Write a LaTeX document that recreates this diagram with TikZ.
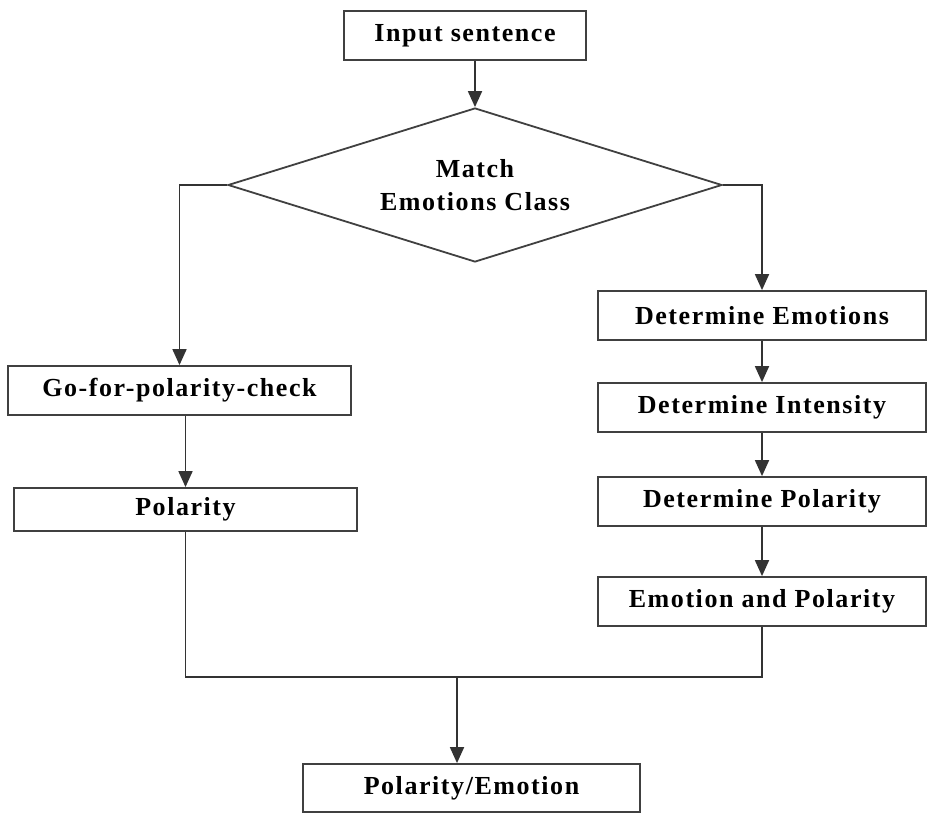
\documentclass[tikz,border=0pt]{standalone}
\usepackage{fontspec}
\setmainfont{Liberation Serif}[LetterSpace=6]
\usetikzlibrary{shapes.geometric,arrows.meta}

\begin{document}
\begin{tikzpicture}[x=1pt,y=-1pt,
  font=\fontsize{26}{33}\selectfont\bfseries,
  line width=1.8pt, draw=black!80,
  process/.style={draw=black!75,rectangle,inner sep=0pt,
    minimum height=49pt,align=center},
  decision/.style={draw=black!75,diamond,aspect=3.2,inner sep=0pt,
    minimum width=494pt,minimum height=154pt,align=center},
  flow/.style={-{Triangle[length=16pt,width=14pt]}}]

  \useasboundingbox (0,0) rectangle (928,813);

  % main column
  \node [process,minimum width=242pt] (inp) at (465,35.5) {Input sentence};
  \node [decision] (match) at (475,185) {Match\\Emotions Class};

  % left branch
  \node [process,minimum width=343pt] (goc) at (179.5,390.5) {Go-for-polarity-check};
  \node [process,minimum width=343pt,minimum height=43pt] (pol) at (185.5,509.5) {Polarity};

  % right branch
  \node [process,minimum width=328pt] (demo) at (762,315.5) {Determine Emotions};
  \node [process,minimum width=328pt] (dint) at (762,407.5) {Determine Intensity};
  \node [process,minimum width=328pt] (dpol) at (762,501.5) {Determine Polarity};
  \node [process,minimum width=328pt] (emp) at (762,601.5) {Emotion and Polarity};

  % result
  \node [process,minimum width=337pt,minimum height=48pt] (res) at (471.5,788) {Polarity/Emotion};
  \coordinate (join) at (457,677);

  \draw [flow] (inp.south -| match.north) -- (match.north);
  \draw [flow] (match.west) -| (goc.north);
  \draw [flow] (goc.south -| pol.north) -- (pol.north);
  \draw [flow] (match.east) -| (demo.north);
  \draw [flow] (demo) -- (dint);
  \draw [flow] (dint) -- (dpol);
  \draw [flow] (dpol) -- (emp);
  \draw (pol.south) |- (join) -| (emp.south);
  \draw [flow] (join) -- (join |- res.north);
\end{tikzpicture}
\end{document}
